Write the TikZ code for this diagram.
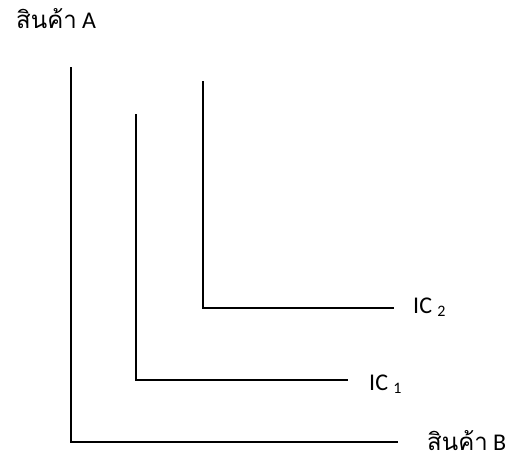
\documentclass[tikz,border=0pt]{standalone}
\usepackage{fontspec}
\setmainfont{Carlito}
\newfontfamily\thaifont[Script=Thai]{Loma}
\begin{document}
\begin{tikzpicture}[x=1pt,y=-1pt,
  curve/.style={line width=1.6pt, line cap=rect},
  lbl/.style={inner sep=0pt, font=\fontsize{24}{28}\selectfont}]
\useasboundingbox (0,0) rectangle (513,461);
% axes
\coordinate (ytop) at (71,68);
\coordinate (orig) at (71,442);
\coordinate (xend) at (397,442);
\draw[curve] (ytop) -- (orig) -- (xend);
% IC1
\coordinate (a1) at (136,115);
\coordinate (c1) at (136,380);
\coordinate (e1) at (347,380);
\draw[curve] (a1) -- (c1) -- (e1);
% IC2
\coordinate (a2) at (203,82);
\coordinate (c2) at (203,308);
\coordinate (e2) at (393,308);
\draw[curve] (a2) -- (c2) -- (e2);
% labels
\node[lbl, anchor=base west] (lA) at (16,28) {{\thaifont สินค้า} A};
\node[lbl, anchor=base west, text depth=0pt] (lB) at (427,450) {{\thaifont สินค้า} B};
\node[lbl, anchor=base west] (l1) at (369,390) {IC {\fontsize{16}{18}\selectfont\raisebox{-3pt}{1}}};
\node[lbl, anchor=base west] (l2) at (413,313) {IC {\fontsize{16}{18}\selectfont\raisebox{-3pt}{2}}};
\end{tikzpicture}
\end{document}
